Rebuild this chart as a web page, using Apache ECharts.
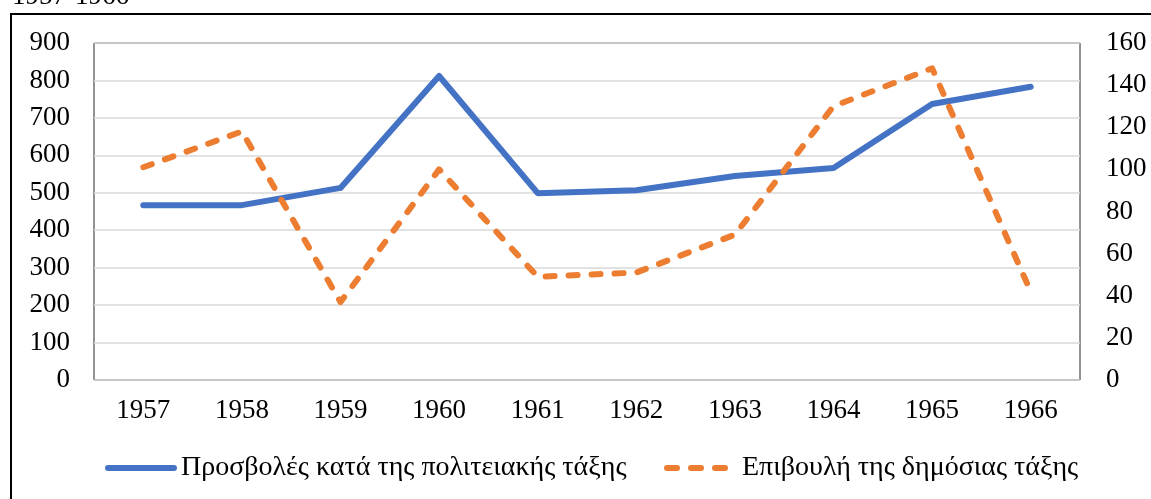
<!DOCTYPE html>
<html>
<head>
<meta charset="utf-8">
<script src="https://cdn.jsdelivr.net/npm/echarts@6/dist/echarts.min.js"></script>
<style>html,body{margin:0;padding:0;background:#fff;}#c{width:1151px;height:499px;}</style>
</head>
<body>
<div id="c"></div>
<script>
const years = ['1957','1958','1959','1960','1961','1962','1963','1964','1965','1966'];
const attacks = [467, 467, 513, 812, 499, 507, 545, 566, 737, 783];
const plots = [101, 118, 37, 100, 49, 51, 69, 130, 148, 42];
const nameA = 'Προσβολές κατά της πολιτειακής τάξης';
const nameB = 'Επιβουλή της δημόσιας τάξης';
const titleText = '1957-1966';

const font = 'Liberation Serif';
const FS = 27;
const LFS = 28;
const dashIcon = 'path://M3,0h10a3,3 0 0 1 0,6h-10a3,3 0 0 1 0,-6z M27,0h10a3,3 0 0 1 0,6h-10a3,3 0 0 1 0,-6z M51,0h10a3,3 0 0 1 0,6h-10a3,3 0 0 1 0,-6z';
const solidIcon = 'path://M3,0h66a3,3 0 0 1 0,6h-66a3,3 0 0 1 0,-6z';
const chart = echarts.init(document.getElementById('c'));
chart.setOption({
  animation: false,
  backgroundColor: '#fff',
  textStyle: { fontFamily: font },
  graphic: [
    { type: 'rect', shape: { x: 11, y: 14, width: 1160, height: 500 }, style: { fill: 'none', stroke: '#000', lineWidth: 2 } },
    { type: 'text', left: 12, top: -17, style: { text: titleText, font: FS + 'px "Liberation Serif"', fill: '#000' } }
  ],
  grid: { left: 94, right: 71, top: 43, bottom: 119, show: true, borderColor: '#262626', borderWidth: 1, backgroundColor: 'transparent' },
  legend: [
    { left: 105, top: 454, padding: 0, itemWidth: 72, itemHeight: 6, icon: solidIcon,
      textStyle: { fontFamily: font, fontSize: LFS, color: '#000', padding: [0,0,0,-1] }, data: [nameA] },
    { left: 664, top: 454, padding: 0, itemWidth: 64, itemHeight: 6, icon: dashIcon,
      textStyle: { fontFamily: font, fontSize: LFS, color: '#000', padding: [0,0,0,9] }, data: [nameB] }
  ],
  xAxis: {
    type: 'category', data: years, boundaryGap: true,
    axisLine: { show: false }, axisTick: { show: false },
    axisLabel: { fontFamily: font, fontSize: FS, color: '#000', margin: 17 }
  },
  yAxis: [
    { type: 'value', min: 0, max: 900, interval: 100, position: 'left',
      axisLine: { show: false }, axisTick: { show: false },
      axisLabel: { fontFamily: font, fontSize: FS, color: '#000', margin: 24 },
      splitLine: { lineStyle: { color: '#d9d9d9', width: 1.5 } } },
    { type: 'value', min: 0, max: 160, interval: 20, position: 'right',
      axisLine: { show: false }, axisTick: { show: false },
      axisLabel: { fontFamily: font, fontSize: FS, color: '#000', margin: 26 },
      splitLine: { show: false } }
  ],
  series: [
    { name: nameA, type: 'line', data: attacks, yAxisIndex: 0, showSymbol: false, symbol: 'none',
      lineStyle: { color: '#4472c4', width: 6, cap: 'round', join: 'round' }, itemStyle: { color: '#4472c4' } },
    { name: nameB, type: 'line', data: plots, yAxisIndex: 1, showSymbol: false, symbol: 'none',
      lineStyle: { color: '#ed7d31', width: 6, type: [9, 14], cap: 'round', join: 'round' }, itemStyle: { color: '#ed7d31' } }
  ]
});
</script>
</body>
</html>
